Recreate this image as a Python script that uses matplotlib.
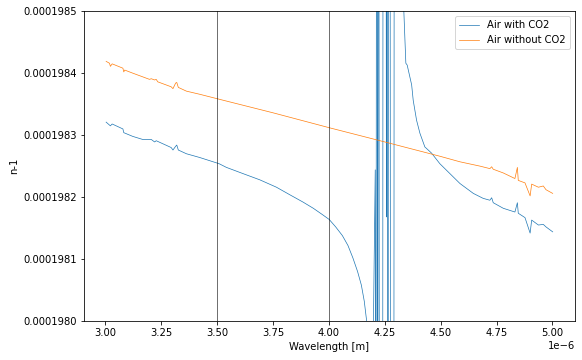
import numpy as np
import matplotlib.pyplot as plt

# wavelength in micrometres, n-1 in units of 1e-7
wl_without = [3.003, 3.018, 3.022, 3.030, 3.078, 3.082, 3.086, 3.122, 3.167, 3.197,
              3.205, 3.220, 3.227, 3.234, 3.294, 3.302, 3.314, 3.319, 3.326, 3.362,
              3.421, 3.508, 3.750, 4.001, 4.250, 4.496, 4.586, 4.676, 4.720, 4.728,
              4.735, 4.780, 4.832, 4.843, 4.847, 4.877, 4.900, 4.907, 4.937, 4.959,
              4.971, 5.001]
n_without = [1984.19, 1984.16, 1984.11, 1984.15, 1984.08, 1984.02, 1984.05, 1984.00, 1983.94, 1983.90,
             1983.91, 1983.89, 1983.90, 1983.86, 1983.78, 1983.75, 1983.84, 1983.85, 1983.77, 1983.71,
             1983.66, 1983.58, 1983.36, 1983.12, 1982.89, 1982.66, 1982.57, 1982.50, 1982.46, 1982.49,
             1982.45, 1982.39, 1982.30, 1982.48, 1982.27, 1982.23, 1982.02, 1982.21, 1982.16, 1982.18,
             1982.12, 1982.06]

wl_with = [3.003, 3.022, 3.030, 3.078, 3.082, 3.122, 3.167, 3.205, 3.220, 3.227,
           3.294, 3.302, 3.314, 3.319, 3.326, 3.362, 3.421, 3.508, 3.541, 3.615,
           3.690, 3.765, 3.824, 3.884, 3.930, 3.970, 4.001, 4.030, 4.060, 4.085,
           4.107, 4.128, 4.145, 4.158, 4.168, 4.183,
           4.207, 4.210, 4.214, 4.218, 4.222, 4.226, 4.240, 4.243, 4.254, 4.257,
           4.260, 4.264, 4.268, 4.272, 4.276, 4.290, 4.293,
           4.317, 4.335, 4.340, 4.344, 4.350, 4.370, 4.377, 4.392, 4.407, 4.429,
           4.459, 4.496, 4.541, 4.586, 4.646, 4.690, 4.720, 4.728, 4.735, 4.780,
           4.832, 4.843, 4.847, 4.877, 4.900, 4.907, 4.937, 4.959, 4.971, 5.001]
n_with = [1983.21, 1983.15, 1983.18, 1983.10, 1983.04, 1982.98, 1982.93, 1982.93, 1982.89, 1982.91,
          1982.80, 1982.76, 1982.82, 1982.84, 1982.76, 1982.70, 1982.64, 1982.54, 1982.48, 1982.38,
          1982.28, 1982.16, 1982.04, 1981.92, 1981.82, 1981.72, 1981.64, 1981.52, 1981.38, 1981.22,
          1981.02, 1980.80, 1980.58, 1980.32, 1980.02, 1975.0,
          1982.44, 1975.0, 1995.0, 1975.0, 1995.0, 1975.0, 1975.0, 1995.0, 1995.0, 1981.68,
          1995.0, 1975.0, 1995.0, 1995.0, 1975.0, 1975.0, 1995.0,
          1992.0, 1985.00, 1984.53, 1984.16, 1984.13, 1983.81, 1983.56, 1983.24, 1983.03, 1982.81,
          1982.71, 1982.54, 1982.38, 1982.22, 1982.06, 1981.98, 1981.95, 1981.99, 1981.91, 1981.82,
          1981.76, 1981.91, 1981.74, 1981.67, 1981.42, 1981.63, 1981.55, 1981.56, 1981.52, 1981.44]

marks = [3.5, 4.0]

fig, ax = plt.subplots(figsize=(582 / 72, 360 / 72), dpi=72)
fig.subplots_adjust(left=0.144, right=0.988, top=0.969, bottom=0.108)

ax.plot(np.array(wl_with) * 1e-6, np.array(n_with) * 1e-7, lw=0.7, label='Air with CO2')
ax.plot(np.array(wl_without) * 1e-6, np.array(n_without) * 1e-7, lw=0.7, label='Air without CO2')
for m in marks:
    ax.axvline(m * 1e-6, color='k', lw=0.8, alpha=0.7)

ax.set_ylim(0.0001980, 0.0001985)
ax.ticklabel_format(axis='y', useOffset=False)
ax.set_xlabel('Wavelength [m]')
ax.set_ylabel('n-1')
ax.legend(loc='upper right')

fig.savefig('out.png')
